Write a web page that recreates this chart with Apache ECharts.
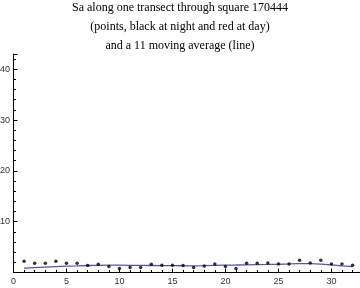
<!DOCTYPE html>
<html><head><meta charset="utf-8">
<script src="https://cdn.jsdelivr.net/npm/echarts@6/dist/echarts.min.js"></script>
<style>html,body{margin:0;padding:0;background:#fff}#c{width:360px;height:288px}</style>
</head><body><div id="c"></div>
<script>
var xs = [1,2,3,4,5,6,7,8,9,10,11,12,13,14,15,16,17,18,19,20,21,22,23,24,25,26,27,28,29,30,31,32];
var sa = [2.2,1.8,1.8,2.2,1.8,1.8,1.4,1.6,1.2,0.8,1.0,1.0,1.6,1.45,1.45,1.4,1.0,1.3,1.65,1.2,0.8,1.8,1.8,1.85,1.65,1.65,2.4,1.85,2.4,1.65,1.65,1.45];
var avg = [0.85,0.95,1.05,1.15,1.25,1.3,1.38,1.42,1.45,1.45,1.42,1.4,1.38,1.36,1.35,1.33,1.32,1.35,1.4,1.45,1.48,1.52,1.55,1.58,1.62,1.68,1.75,1.75,1.65,1.5,1.3,1.15];
var titleLines = ['Sa along one transect through square 170444','(points, black at night and red at day)','and a 11 moving average (line)'];

var chart = echarts.init(document.getElementById('c'), null, {renderer:'canvas'});
chart.setOption({
  animation:false,
  title:{text:titleLines.join('\n'), left:'center', top:-2, padding:0,
    textStyle:{fontFamily:'Liberation Serif', fontSize:12, fontWeight:'normal', color:'#000', lineHeight:19}},
  grid:{left:13.5, right:0, top:54, bottom:15.5, containLabel:false, outerBoundsMode:'none'},
  xAxis:{type:'value', min:0, max:32.7, interval:5,
    axisLine:{onZero:false, lineStyle:{color:'#000', width:1}},
    axisTick:{inside:true, length:4, lineStyle:{color:'#000'}},
    minorTick:{show:true, splitNumber:5, length:2.5, lineStyle:{color:'#000'}},
    axisLabel:{showMaxLabel:false, margin:5, fontFamily:'Liberation Sans', fontSize:9, color:'#333'},
    splitLine:{show:false}},
  yAxis:{type:'value', min:0, max:43, interval:10,
    axisLine:{show:true, onZero:false, lineStyle:{color:'#000', width:1}},
    axisTick:{show:true, inside:true, length:4, lineStyle:{color:'#000'}},
    minorTick:{show:true, splitNumber:5, length:2.5, lineStyle:{color:'#000'}},
    axisLabel:{showMinLabel:false, showMaxLabel:false, margin:3.5, fontFamily:'Liberation Sans', fontSize:9, color:'#333'},
    splitLine:{show:false}},
  series:[
    {type:'line', data:xs.map(function(x,i){return [x,avg[i]];}), showSymbol:false, symbol:'none',
     lineStyle:{color:'#5656a2', width:1.3}, z:2},
    {type:'scatter', data:xs.map(function(x,i){return [x,sa[i]];}), symbolSize:3.5,
     itemStyle:{color:'#000'}, z:3}
  ]
});
</script></body></html>
